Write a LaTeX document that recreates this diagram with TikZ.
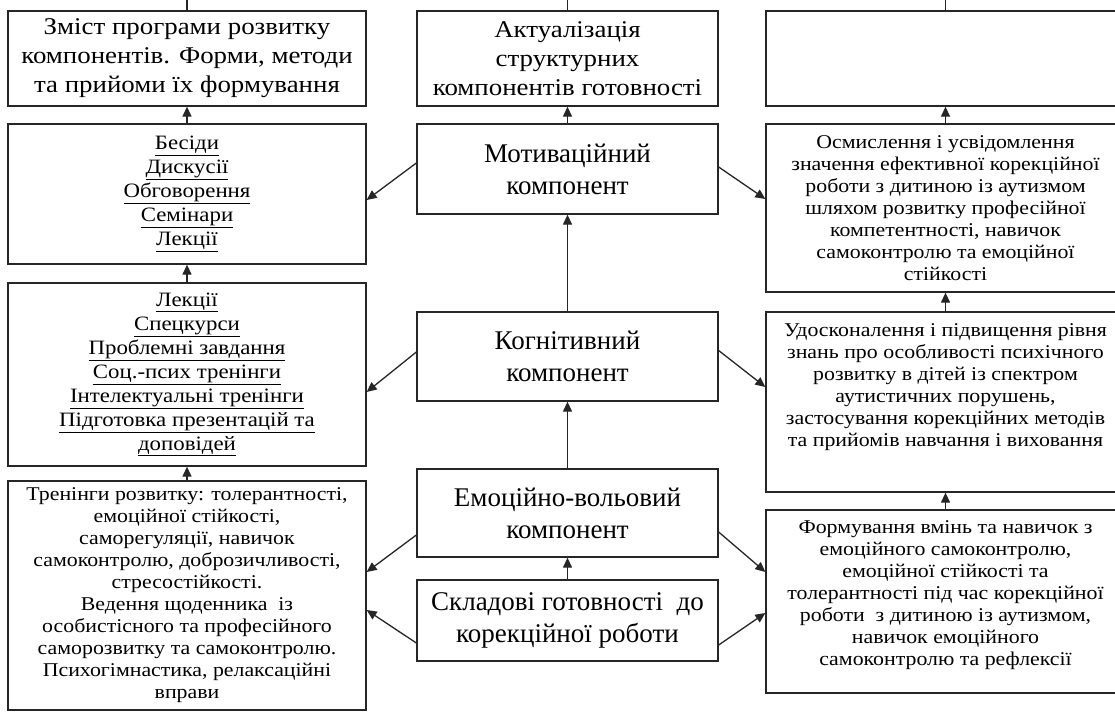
\documentclass[tikz,border=0pt]{standalone}
\usepackage{fontspec}
\setmainfont{Liberation Serif}[FakeStretch=1.12]
\newfontfamily\plainserif{Liberation Serif}
\usetikzlibrary{arrows, arrows.meta}

\begin{document}
\begin{tikzpicture}[x=1pt,y=-1pt,
  box/.style={draw=black!85,line width=1.3pt,align=center,inner sep=0pt},
  lft/.style={box,minimum width=358pt},
  mid/.style={box,minimum width=301pt},
  rgt/.style={box,minimum width=359pt},
  big/.style={font=\fontsize{24}{29}\selectfont},
  comp/.style={font=\plainserif\fontsize{27}{32}\selectfont},
  small/.style={font=\fontsize{19.5}{22}\selectfont},
  lst/.style={font=\fontsize{20.4}{24}\selectfont},
  arr/.style={-{Triangle[width=9pt,length=10pt]},line width=1.3pt,black!85}]
\clip (0,0) rectangle (1115,712);
%\draw[step=50,gray,very thin] (0,0) grid (1115,712); %background grid
%---------------------------------------------------
\node[lft,big,minimum height=95pt] (zmist) at (187,58.5) {Зміст програми розвитку\\компонентів. Форми, методи\\та прийоми їх формування};
\node[lft,lst,minimum height=140pt] (besidy) at (187,194) {\underline{Бесіди}\\\underline{Дискусії}\\\underline{Обговорення}\\\underline{Семінари}\\\underline{Лекції}};
\node[lft,lst,minimum height=183pt] (lekcii) at (187,374.5) {\underline{Лекції}\\\underline{Спецкурси}\\\underline{Проблемні завдання}\\\underline{Соц.-псих тренінги}\\\underline{Інтелектуальні тренінги}\\\underline{Підготовка презентацій та}\\\underline{доповідей}};
\node[lft,small,minimum height=229pt] (treningy) at (187,595.5) {Тренінги розвитку: толерантності,\\емоційної стійкості,\\саморегуляції, навичок\\самоконтролю, доброзичливості,\\стресостійкості.\\Ведення щоденника\ \ із\\особистісного та професійного\\саморозвитку та самоконтролю.\\Психогімнастика, релаксаційні\\вправи};
%---------------------------------------------------
\node[mid,big,minimum height=95pt] (aktual) at (567.5,58.5) {Актуалізація\\структурних\\компонентів готовності};
\node[mid,comp,minimum height=90pt] (motiv) at (567.5,169) {Мотиваційний\\компонент};
\node[mid,comp,minimum height=89pt] (kogn) at (567.5,356.5) {Когнітивний\\компонент};
\node[mid,comp,minimum height=88pt] (emoc) at (567.5,513) {Емоційно-вольовий\\компонент};
\node[mid,comp,minimum height=81pt] (skladovi) at (567.5,620.5) {Складові готовності\ \ до\\корекційної роботи};
%---------------------------------------------------
\node[rgt,minimum height=95pt] (porozh) at (945.5,58.5) {};
\node[rgt,small,minimum height=168pt] (osmysl) at (945.5,208) {Осмислення і усвідомлення\\значення ефективної корекційної\\роботи з дитиною із аутизмом\\шляхом розвитку професійної\\компетентності, навичок\\самоконтролю та емоційної\\стійкості};
\node[rgt,small,minimum height=180pt] (udosk) at (945.5,402) {Удосконалення і підвищення рівня\\знань про особливості психічного\\розвитку в дітей із спектром\\аутистичних порушень,\\застосування корекційних методів\\та прийомів навчання і виховання\\[12pt]\mbox{}};
\node[rgt,small,minimum height=183pt] (formuv) at (945.5,601.5) {Формування вмінь та навичок з\\емоційного самоконтролю,\\емоційної стійкості та\\толерантності під час корекційної\\роботи\ \ з дитиною із аутизмом,\\навичок емоційного\\самоконтролю та рефлексії\\[-5pt]\mbox{}};
%---------------------------------------------------
\coordinate (inL) at (187,0);
\coordinate (inC) at (567.5,0);
\coordinate (inR) at (945.5,0);
\draw[line width=1.3pt,black!85] (zmist.north) -- (inL);
\draw[line width=1.3pt,black!85] (aktual.north) -- (inC);
\draw[line width=1.3pt,black!85] (porozh.north) -- (inR);
%---------------------------------------------------
\draw[arr] (besidy) -- (zmist);
\draw[arr] (lekcii) -- (besidy);
\draw[arr] (treningy) -- (lekcii);
\draw[arr] (motiv) -- (aktual);
\draw[arr] (kogn) -- (motiv);
\draw[arr] (emoc) -- (kogn);
\draw[arr] (skladovi) -- (emoc);
\draw[arr] (osmysl) -- (porozh);
\draw[arr] (udosk) -- (osmysl);
\draw[arr] (formuv) -- (udosk);
%---------------------------------------------------
\draw[arr] ([yshift=6pt]motiv.west) -- ([yshift=-6pt]besidy.east);
\draw[arr] ([yshift=2pt]motiv.east) -- ([yshift=9pt]osmysl.west);
\draw[arr] ([yshift=4.5pt]kogn.west) -- ([yshift=-17.5pt]lekcii.east);
\draw[arr] ([yshift=6pt]kogn.east) -- ([yshift=15pt]udosk.west);
\draw[arr] ([yshift=-22pt]emoc.west) -- ([yshift=23.5pt]treningy.east);
\draw[arr] ([yshift=-19pt]emoc.east) -- ([yshift=29.5pt]formuv.west);
\draw[arr] ([yshift=-22.5pt]skladovi.west) -- ([yshift=-14.5pt]treningy.east);
\draw[arr] ([yshift=-24.5pt]skladovi.east) -- ([yshift=-11.5pt]formuv.west);
\end{tikzpicture}
\end{document}
